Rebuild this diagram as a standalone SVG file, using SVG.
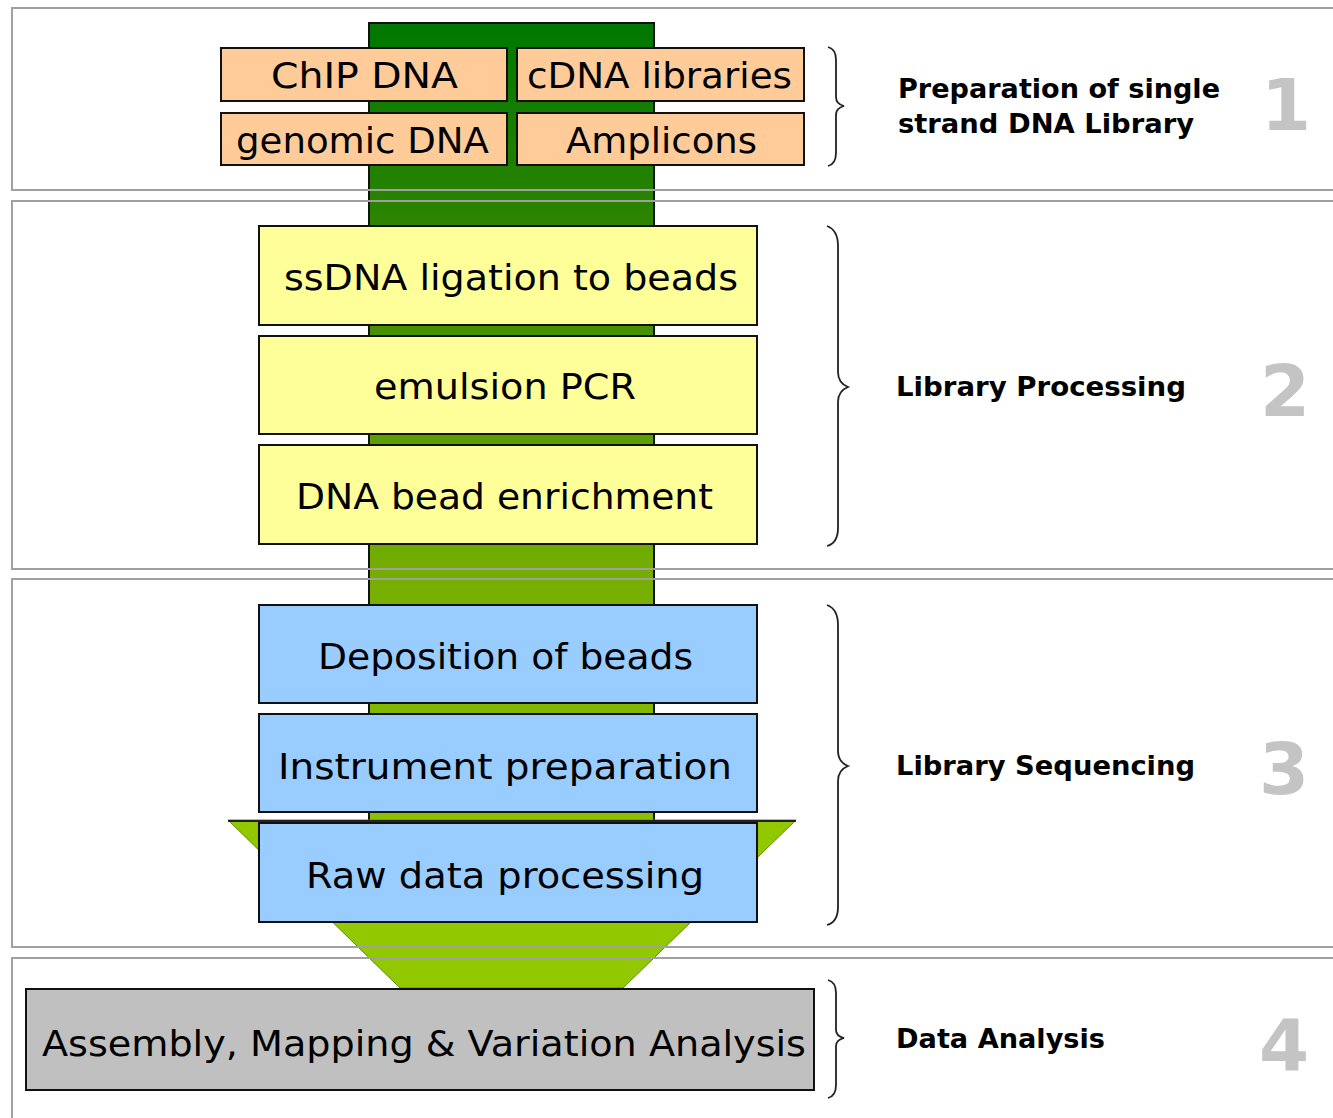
<svg xmlns="http://www.w3.org/2000/svg" width="1333" height="1118" viewBox="0 0 1333 1118">
<style>
.pbg{fill:#fff;stroke:none}
.pline{fill:none;stroke:#a0a0a0;stroke-width:2}
.box{stroke:#111;stroke-width:2}
.src{fill:#ffcc99}
.lib{fill:#ffff99}
.seq{fill:#99ccff}
.ana{fill:#c0c0c0}
.bt{font-family:"DejaVu Sans","Verdana",sans-serif;font-size:35px;fill:#000;text-anchor:start}
.lab{font-family:"DejaVu Sans","Verdana",sans-serif;font-weight:bold;font-size:27px;fill:#000}
.num{font-family:"DejaVu Sans","Verdana",sans-serif;font-weight:bold;font-size:72px;fill:#c4c4c4;text-anchor:middle}
.brace{fill:none;stroke:#222;stroke-width:1.8}
</style>
<defs>
<linearGradient id="col" x1="0" y1="23" x2="0" y2="823" gradientUnits="userSpaceOnUse">
<stop offset="0" stop-color="#007700"/>
<stop offset="0.25" stop-color="#2d8400"/>
<stop offset="0.4" stop-color="#4a9300"/>
<stop offset="0.7" stop-color="#76af00"/>
<stop offset="1" stop-color="#8cc000"/>
</linearGradient>
</defs>
<rect width="1333" height="1118" fill="#fff"/>
<g id="panels-bg">
<rect class="pbg" x="12" y="8" width="1340" height="182"/>
<rect class="pbg" x="12" y="201" width="1340" height="368"/>
<rect class="pbg" x="12" y="579" width="1340" height="368"/>
<rect class="pbg" x="12" y="958" width="1340" height="180"/>
</g>
<g id="connectors">
<rect x="369" y="23" width="285" height="800" fill="url(#col)" stroke="#111" stroke-width="2"/>
<polygon points="228,820 796,820 623,988 400,988" fill="#92c800" stroke="#5f8a00" stroke-width="1"/>
<line x1="228" y1="821" x2="796" y2="821" stroke="#222" stroke-width="2"/>
</g>
<g id="panels">
<rect class="pline" x="12" y="8" width="1340" height="182"/>
<rect class="pline" x="12" y="201" width="1340" height="368"/>
<rect class="pline" x="12" y="579" width="1340" height="368"/>
<rect class="pline" x="12" y="958" width="1340" height="180" stroke-width="3"/>
</g>
<g id="chip-dna"><rect class="box src" x="221" y="48" width="286" height="53"/><text class="bt" x="271" y="88" textLength="187" lengthAdjust="spacingAndGlyphs">ChIP DNA</text></g>
<g id="cdna-libraries"><rect class="box src" x="517" y="48" width="287" height="53"/><text class="bt" x="527" y="88" textLength="265" lengthAdjust="spacingAndGlyphs">cDNA libraries</text></g>
<g id="genomic-dna"><rect class="box src" x="221" y="113" width="286" height="52"/><text class="bt" x="236" y="153" textLength="253" lengthAdjust="spacingAndGlyphs">genomic DNA</text></g>
<g id="amplicons"><rect class="box src" x="517" y="113" width="287" height="52"/><text class="bt" x="566" y="153" textLength="191" lengthAdjust="spacingAndGlyphs">Amplicons</text></g>
<g id="ssdna-ligation"><rect class="box lib" x="259" y="226" width="498" height="99"/><text class="bt" x="284" y="290" textLength="454" lengthAdjust="spacingAndGlyphs">ssDNA ligation to beads</text></g>
<g id="emulsion-pcr"><rect class="box lib" x="259" y="336" width="498" height="98"/><text class="bt" x="374" y="399" textLength="262" lengthAdjust="spacingAndGlyphs">emulsion PCR</text></g>
<g id="dna-bead-enrichment"><rect class="box lib" x="259" y="445" width="498" height="99"/><text class="bt" x="296" y="509" textLength="417" lengthAdjust="spacingAndGlyphs">DNA bead enrichment</text></g>
<g id="deposition-of-beads"><rect class="box seq" x="259" y="605" width="498" height="98"/><text class="bt" x="318" y="669" textLength="375" lengthAdjust="spacingAndGlyphs">Deposition of beads</text></g>
<g id="instrument-preparation"><rect class="box seq" x="259" y="714" width="498" height="98"/><text class="bt" x="278" y="779" textLength="454" lengthAdjust="spacingAndGlyphs">Instrument preparation</text></g>
<g id="raw-data-processing"><rect class="box seq" x="259" y="823" width="498" height="99"/><text class="bt" x="306" y="888" textLength="398" lengthAdjust="spacingAndGlyphs">Raw data processing</text></g>
<g id="assembly-mapping"><rect class="box ana" x="26" y="989" width="788" height="101"/><text class="bt" x="42" y="1056" textLength="764" lengthAdjust="spacingAndGlyphs">Assembly, Mapping &amp; Variation Analysis</text></g>
<g id="stage-1">
<path class="brace" d="M828,47 Q836,49 836,60 L836,97 Q836,104 844,106 Q836,108 836,115 L836,153 Q836,164 828,166"/>
<text class="lab" x="898" y="98" textLength="322" lengthAdjust="spacingAndGlyphs">Preparation of single</text>
<text class="lab" x="898" y="133" textLength="296" lengthAdjust="spacingAndGlyphs">strand DNA Library</text>
<text class="num" x="1286" y="130">1</text>
</g>
<g id="stage-2">
<path class="brace" d="M827,226 Q838,230 838,246 L838,372 Q838,383 848,387 Q838,391 838,402 L838,528 Q838,543 827,546"/>
<text class="lab" x="896" y="396" textLength="290" lengthAdjust="spacingAndGlyphs">Library Processing</text>
<text class="num" x="1285" y="416">2</text>
</g>
<g id="stage-3">
<path class="brace" d="M827,605 Q838,609 838,625 L838,751 Q838,762 848,766 Q838,770 838,781 L838,907 Q838,922 827,925"/>
<text class="lab" x="896" y="775" textLength="299" lengthAdjust="spacingAndGlyphs">Library Sequencing</text>
<text class="num" x="1284" y="794">3</text>
</g>
<g id="stage-4">
<path class="brace" d="M828,980 Q836,982 836,993 L836,1030 Q836,1036 844,1038 Q836,1040 836,1046 L836,1085 Q836,1096 828,1098"/>
<text class="lab" x="896" y="1048" textLength="209" lengthAdjust="spacingAndGlyphs">Data Analysis</text>
<text class="num" x="1284" y="1070">4</text>
</g>
</svg>
